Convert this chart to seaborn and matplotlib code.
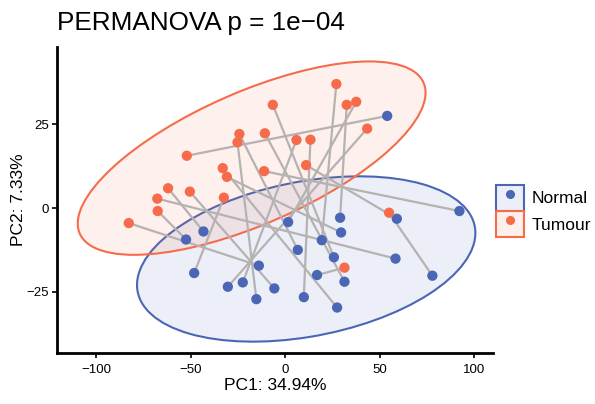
"""
plot.py

Paired PCA plot: Normal vs Tumour samples, pairs joined by grey lines,
95% t-ellipses per group.
"""

import matplotlib
matplotlib.use('Agg')
import matplotlib.pyplot as plt
import numpy             as np
import pandas            as pd
import seaborn           as sns
from matplotlib.patches        import Ellipse, Rectangle
from matplotlib.lines          import Line2D
from matplotlib.legend_handler import HandlerTuple

# Data - index i of each list is one patient pair
TUMOUR_PC1 = [-52.0, 27.1, 37.6, -11.1, 11.1, 55.0, 31.4, 13.4, -82.7, -67.4,
              -61.9, -50.4, -67.6, -32.4, -6.5, -10.7, 43.4, 32.6, 6.0, -24.2,
              -25.2, -33.0, -30.8]
TUMOUR_PC2 = [15.6, 37.0, 31.7, 11.0, 12.8, -1.4, -17.8, 20.4, -4.5, -0.9,
              5.9, 4.9, 2.8, 3.1, 30.8, 22.3, 23.7, 30.8, 20.3, 22.1,
              19.6, 11.9, 9.3]
NORMAL_PC1 = [54.0, 19.4, 1.6, 92.2, 59.1, 77.9, 16.9, 9.9, -13.9, -52.4,
              -43.2, -5.7, 58.4, -48.1, 25.8, 31.4, -30.3, 29.1, -22.4, 6.7,
              -15.2, 27.5, 29.6]
NORMAL_PC2 = [27.5, -9.6, -4.2, -0.9, -3.2, -20.2, -20.0, -26.6, -17.2, -9.4,
              -7.0, -24.0, -15.1, -19.4, -14.7, -22.0, -23.5, -2.9, -22.2, -12.5,
              -27.2, -29.7, -7.3]

GROUPS    = ['Normal', 'Tumour']
COLORS    = {'Normal': '#4A66B4', 'Tumour': '#F66C4B'}
TITLE     = 'PERMANOVA p = 1e\u221204'
X_LABEL   = 'PC1: 34.94%'
Y_LABEL   = 'PC2: 7.33%'
ELL_SCALE = 2.624   # sqrt(2 * F(0.95; 2, n-1)), n = 23

# ===================================================================================================
n_pairs = len(NORMAL_PC1)
df = pd.DataFrame({
    'pair':  list(range(n_pairs)) * 2,
    'group': ['Normal'] * n_pairs + ['Tumour'] * n_pairs,
    'PC1':   NORMAL_PC1 + TUMOUR_PC1,
    'PC2':   NORMAL_PC2 + TUMOUR_PC2,
})
# ===================================================================================================


def cov_trob(x, nu=5, tol=1e-4, maxit=50):
    # multivariate t scatter estimate (same idea as MASS::cov.trob)
    n, p = x.shape
    loc  = x.mean(axis=0)
    w    = np.ones(n)
    for _ in range(maxit):
        w0     = w
        X      = x - loc
        _, d, vt = np.linalg.svd(np.sqrt(w / w.sum())[:, None] * X, full_matrices=False)
        wX     = X @ vt.T / d
        Q      = (wX ** 2).sum(axis=1)
        w      = (nu + p) / (nu + Q)
        loc    = (x * w[:, None]).sum(axis=0) / w.sum()
        if np.all(np.abs(w - w0) < tol):
            break
    X = x - loc
    return loc, (np.sqrt(w)[:, None] * X).T @ (np.sqrt(w)[:, None] * X) / n


def add_ellipse(ax, sub, color):
    loc, cov   = cov_trob(sub[['PC1', 'PC2']].to_numpy())
    vals, vecs = np.linalg.eigh(cov)
    order      = vals.argsort()[::-1]
    vals, vecs = vals[order], vecs[:, order]
    angle      = np.degrees(np.arctan2(vecs[1, 0], vecs[0, 0]))
    w, h       = 2 * ELL_SCALE * np.sqrt(vals)
    ax.add_patch(Ellipse(loc, w, h, angle=angle,
                         facecolor=(color, 0.1), edgecolor=color, lw=1.5, zorder=1))


plt.rcParams['font.family'] = ['Liberation Sans', 'DejaVu Sans']
fig = plt.figure(figsize=(5.95, 4.04), dpi=100)
ax  = fig.add_axes([0.096, 0.126, 0.733, 0.758])

for g in GROUPS:
    add_ellipse(ax, df[df.group == g], COLORS[g])

sns.lineplot(data=df, x='PC1', y='PC2', units='pair', estimator=None,
             sort=False, color='#B5B2B2', lw=1.6, ax=ax, zorder=2, legend=False)
sns.scatterplot(data=df, x='PC1', y='PC2', hue='group', hue_order=GROUPS,
                palette=COLORS, s=55, edgecolor='none', ax=ax, zorder=3, legend=False)

ax.set_xlim(-120.6, 110.1)
ax.set_ylim(-43.3, 48.1)
ax.set_xticks([-100, -50, 0, 50, 100])
ax.set_yticks([-25, 0, 25])
ax.set_xticklabels(['\u2212100', '\u221250', '0', '50', '100'])
ax.set_yticklabels(['\u221225', '0', '25'])
ax.tick_params(labelsize=9.5, colors='black', length=3.5, width=1.2)
ax.tick_params(axis='x', pad=4)
ax.tick_params(axis='y', pad=2.5)
for side in ['top', 'right']:
    ax.spines[side].set_visible(False)
for side in ['left', 'bottom']:
    ax.spines[side].set_linewidth(2)
ax.set_xlabel(X_LABEL, fontsize=12.5, labelpad=1.5)
ax.set_ylabel(Y_LABEL, fontsize=12.5, labelpad=0)
ax.set_title(TITLE, loc='left', fontsize=18.8, pad=12)

handles = [(Rectangle((0, 0), 1, 1, facecolor=(COLORS[g], 0.1), edgecolor=COLORS[g], lw=1.5),
            Line2D([], [], marker='o', ls='', color=COLORS[g], markersize=5.5))
           for g in GROUPS]
fig.legend(handles, GROUPS, handler_map={tuple: HandlerTuple(ndivide=1)},
           loc='center left', bbox_to_anchor=(0.834, 0.478), frameon=False,
           fontsize=12.5, handlelength=1.6, handleheight=1.95,
           labelspacing=0.0, handletextpad=0.45, borderaxespad=0, borderpad=0)

fig.savefig('out.png', dpi=100)
